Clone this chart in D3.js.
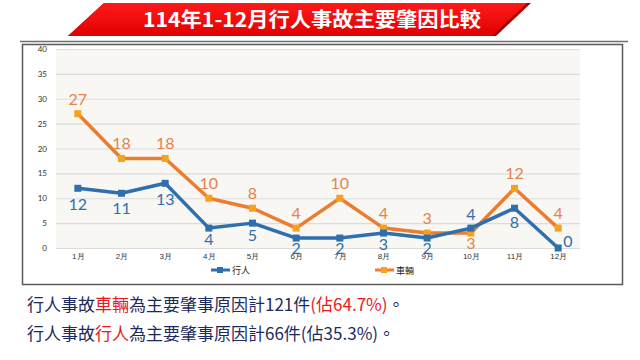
<!DOCTYPE html>
<html lang="zh-Hant">
<head>
<meta charset="UTF-8">
<title>114年1-12月行人事故主要肇因比較</title>
<script src="https://d3js.org/d3.v7.min.js"></script>
<style>
  body { margin: 0; background: #fff; }
  svg { display: block; font-family: "Noto Sans CJK TC", "Noto Sans", sans-serif; }
</style>
</head>
<body>
<script>
  // data
  const months = ["1月","2月","3月","4月","5月","6月","7月","8月","9月","10月","11月","12月"]
  const pedestrian = [12, 11, 13, 4, 5, 2, 2, 3, 2, 4, 8, 0]
  const vehicle = [27, 18, 18, 10, 8, 4, 10, 4, 3, 3, 12, 4]
  const yTicks = [0, 5, 10, 15, 20, 25, 30, 35, 40]
  const seriesNames = ["行人", "車輛"]
  const title = "114年1-12月行人事故主要肇因比較"

  const width = 640
  const height = 360
  const blue = "#2e6fae"
  const orange = "#ec7c30"

  let svg = d3.select("body").append("svg")
      .attr("width", width)
      .attr("height", height)
      .attr("viewBox", `0 0 ${width} ${height}`)

  // banner
  const defs = svg.append("defs")
  const grad = defs.append("linearGradient").attr("id", "bannerGrad")
      .attr("x1", 0).attr("y1", 0).attr("x2", 0).attr("y2", 1)
  grad.append("stop").attr("offset", "0%").attr("stop-color", "#ff1a1a")
  grad.append("stop").attr("offset", "100%").attr("stop-color", "#e00000")

  svg.append("path")
      .attr("d", "M104,3 L531,3 L496,36 L68,36 Z")
      .attr("fill", "#a00000")
  svg.append("path")
      .attr("d", "M104,3 L527,3 L492,36 L68,36 Z")
      .attr("fill", "url(#bannerGrad)")
  svg.append("text")
      .attr("x", 312).attr("y", 27)
      .attr("text-anchor", "middle")
      .attr("fill", "#fff")
      .attr("font-size", 20)
      .attr("font-weight", "bold")
      .attr("textLength", 338)
      .attr("lengthAdjust", "spacingAndGlyphs")
      .text(title)

  svg.append("line")
      .attr("x1", 20).attr("x2", 628)
      .attr("y1", 41.5).attr("y2", 41.5)
      .attr("stroke", "#6f6f6f").attr("stroke-width", 1.5)

  // chart frame
  svg.append("rect")
      .attr("x", 22.5).attr("y", 44.5)
      .attr("width", 600).attr("height", 240)
      .attr("fill", "#fff")
      .attr("stroke", "#5a5a5a").attr("stroke-width", 1.5)

  const x = d3.scalePoint().domain(months).range([56, 580]).padding(0.5)
  const y = d3.scaleLinear().domain([0, 40]).range([248, 49])

  svg.append("rect")
      .attr("x", 56).attr("y", y(40))
      .attr("width", 524).attr("height", y(0) - y(40))
      .attr("fill", "#f8f7f3")

  // grid + y axis
  const yAxis = svg.append("g")
      .attr("transform", "translate(56,0)")
      .call(d3.axisLeft(y).tickValues(yTicks).tickSize(-524).tickPadding(9))
  yAxis.select(".domain").remove()
  yAxis.selectAll(".tick line").attr("stroke", "#dcdcd8").attr("stroke-width", 1.2)
  yAxis.selectAll(".tick text")
      .attr("fill", "#333").attr("font-size", 8)
      .attr("font-family", "Lato, 'Noto Sans', sans-serif")

  // x axis
  const xAxis = svg.append("g")
      .attr("transform", `translate(0,${y(0)})`)
      .call(d3.axisBottom(x).tickSize(0).tickPadding(5))
  xAxis.select(".domain").remove()
  xAxis.selectAll(".tick text")
      .attr("fill", "#333").attr("font-size", 8)

  const lineGen = d3.line()
      .x((d, i) => x(months[i]))
      .y(d => y(d))

  function drawSeries(vals, color, markerFill) {
    svg.append("path")
        .datum(vals)
        .attr("d", lineGen)
        .attr("fill", "none")
        .attr("stroke", color)
        .attr("stroke-width", 3.5)
        .attr("stroke-linejoin", "round")
    svg.append("g").selectAll("rect")
        .data(vals)
        .join("rect")
        .attr("x", (d, i) => x(months[i]) - 3.5)
        .attr("y", d => y(d) - 3.5)
        .attr("width", 7).attr("height", 7)
        .attr("fill", markerFill)
  }

  drawSeries(vehicle, orange, "#f6a21e")
  drawSeries(pedestrian, blue, blue)

  // data labels: vehicle above, pedestrian below, swapped where pedestrian is higher
  const labelFont = "Lato, 'Open Sans', sans-serif"
  svg.append("g").selectAll("text")
      .data(vehicle)
      .join("text")
      .attr("x", (d, i) => x(months[i]))
      .attr("y", (d, i) => pedestrian[i] > d ? y(d) + 16 : y(d) - 9)
      .attr("text-anchor", "middle")
      .attr("font-size", 16)
      .attr("font-family", labelFont)
      .attr("fill", "#e4834c")
      .text(d => d)

  svg.append("g").selectAll("text")
      .data(pedestrian)
      .join("text")
      .attr("x", (d, i) => d === 0 ? x(months[i]) + 5 : x(months[i]))
      .attr("y", (d, i) => {
        if (d === 0) return y(d) - 1
        if (d > vehicle[i]) return y(d) - 8
        return y(d) + 15 + d * 0.55
      })
      .attr("text-anchor", d => d === 0 ? "start" : "middle")
      .attr("font-size", 16)
      .attr("font-family", labelFont)
      .attr("fill", blue)
      .text(d => d)

  // legend
  const legend = [
    {name: seriesNames[0], color: blue, fill: blue, x: 211},
    {name: seriesNames[1], color: orange, fill: "#f6a21e", x: 375}
  ]
  const lg = svg.append("g").selectAll("g")
      .data(legend)
      .join("g")
      .attr("transform", d => `translate(${d.x},270)`)
  lg.append("line")
      .attr("x1", 0).attr("x2", 19)
      .attr("stroke", d => d.color).attr("stroke-width", 3)
  lg.append("rect")
      .attr("x", 6).attr("y", -3).attr("width", 6).attr("height", 6)
      .attr("fill", d => d.fill)
  lg.append("text")
      .attr("x", 21).attr("y", 3.5)
      .attr("font-size", 9)
      .attr("fill", "#222")
      .text(d => d.name)

  // summary lines
  const navy = "#1c2b5e"
  const red = "#e8191a"
  const lines = [
    [["行人事故", navy], ["車輛", red], ["為主要肇事原因計121件", navy], ["(佔64.7%)", red], ["。", navy]],
    [["行人事故", navy], ["行人", red], ["為主要肇事原因計66件(佔35.3%)", navy], ["。", navy]]
  ]
  lines.forEach((parts, li) => {
    const t = svg.append("text")
        .attr("x", 27).attr("y", 311 + li * 29)
        .attr("font-size", 17)
    parts.forEach(p => t.append("tspan").attr("fill", p[1]).text(p[0]))
  })
</script>
</body>
</html>
